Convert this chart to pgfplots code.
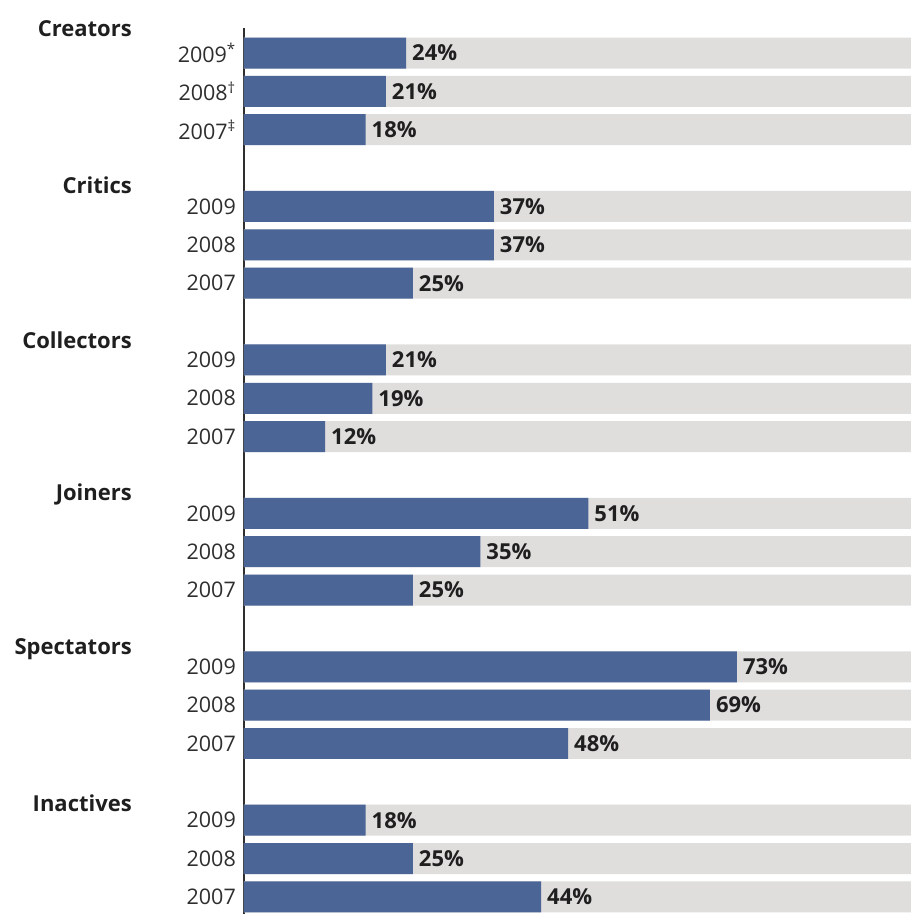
\documentclass[border=0pt]{standalone}
\usepackage{fontspec}
\setmainfont{Open Sans}
\usepackage{pgfplots}
\pgfplotsset{compat=1.18}
\usepackage{pgfplotstable}
\definecolor{barblue}{HTML}{4B6596}
\definecolor{bargray}{HTML}{DFDEDC}
\definecolor{txt}{HTML}{2E2E2E}

\pgfplotstableread{
row val
1 24
2 21
3 18
5 37
6 37
7 25
9 21
10 19
11 12
13 51
14 35
15 25
17 73
18 69
19 48
21 18
22 25
23 44
}\datatable

\pgfplotstableread{
row val
1 98.8
2 98.8
3 98.8
5 98.8
6 98.8
7 98.8
9 98.8
10 98.8
11 98.8
13 98.8
14 98.8
15 98.8
17 98.8
18 98.8
19 98.8
21 98.8
22 98.8
23 98.8
}\bgtable

\begin{document}
\begin{tikzpicture}
\begin{axis}[name=ax, scale only axis, width=667pt, height=886pt,
  xmin=0, xmax=98.8, ymin=0.348, ymax=23.445, y dir=reverse,
  axis x line=none, axis y line*=left,
  axis line style={-, draw=txt, line width=1.5pt},
  ytick={1,2,3,5,6,7,9,10,11,13,14,15,17,18,19,21,22,23},
  yticklabels={2009\textsuperscript{*},2008\textsuperscript{†},2007\textsuperscript{‡},
    2009,2008,2007,2009,2008,2007,2009,2008,2007,2009,2008,2007,2009,2008,2007},
  major tick length=0pt,
  yticklabel style={font=\fontsize{21.5}{25}\selectfont, text=txt, anchor=east, inner sep=0pt, xshift=-8pt},
  xbar, bar width=0.808, bar shift=0pt,
  clip=false,
  /pgf/number format/assume math mode=true,
]
\addplot[draw=none, fill=bargray] table[x=val, y=row] {\bgtable};
\addplot[draw=none, fill=barblue, point meta=x,
  nodes near coords={\pgfmathprintnumber[precision=0]{\pgfplotspointmeta}\%},
  every node near coord/.append style={anchor=west, font=\bfseries\fontsize{22}{26}\selectfont, text=black!88, inner sep=0pt, xshift=6pt}]
  table[x=val, y=row] {\datatable};
\begin{scope}[every node/.style={anchor=east, inner sep=0pt, font=\bfseries\fontsize{22}{26}\selectfont, text=black!88}]
\node at (axis cs:0,0.36) [xshift=-112pt] {Creators};
\node at (axis cs:0,4.45) [xshift=-112pt] {Critics};
\node at (axis cs:0,8.5) [xshift=-112pt] {Collectors};
\node at (axis cs:0,12.5) [xshift=-112pt] {Joiners};
\node at (axis cs:0,16.53) [xshift=-112pt] {Spectators};
\node at (axis cs:0,20.55) [xshift=-112pt] {Inactives};
\end{scope}
\end{axis}
\pgfresetboundingbox
\path ([xshift=-244pt]ax.south west) rectangle ([yshift=28pt]ax.north east);
\end{tikzpicture}
\end{document}
